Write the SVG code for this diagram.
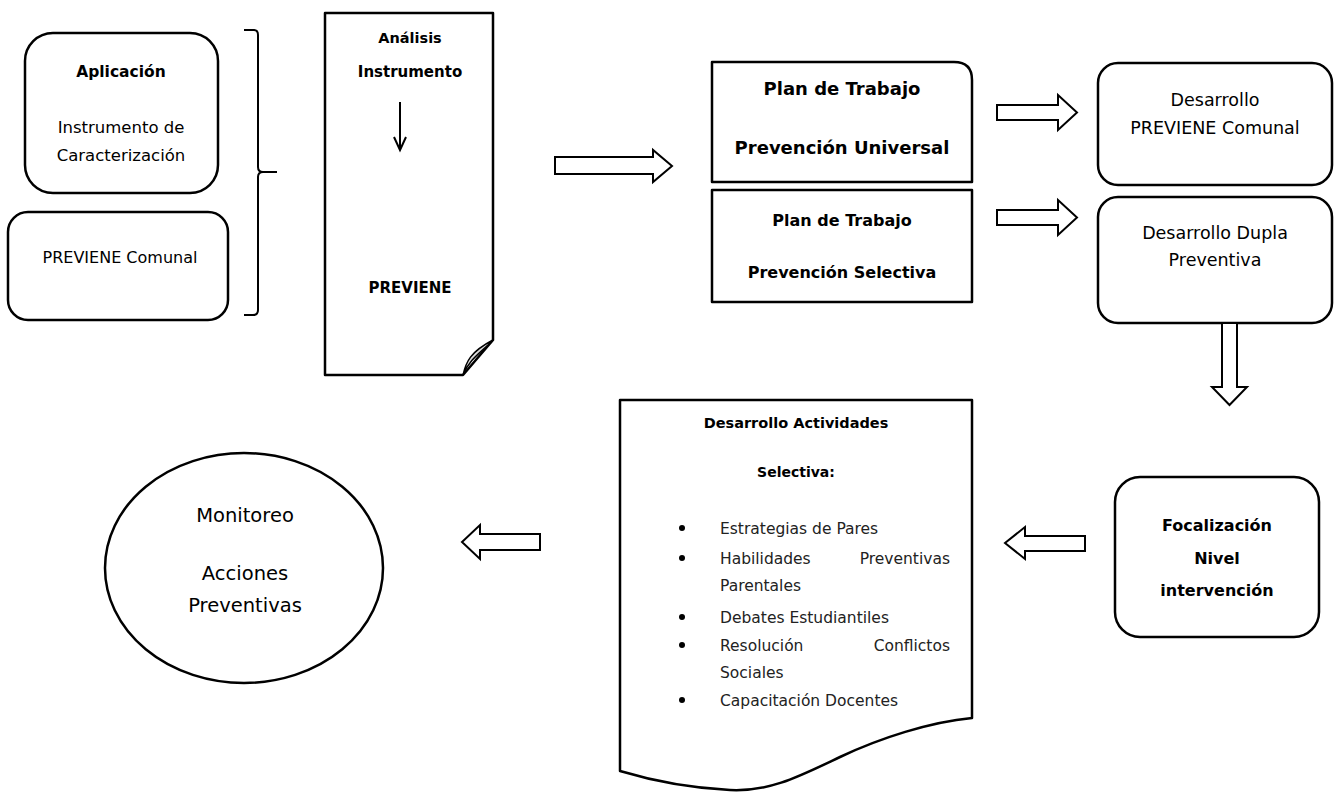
<svg xmlns="http://www.w3.org/2000/svg" width="1338" height="792" viewBox="0 0 1338 792">
<style>
.shape{fill:#fff;stroke:#000;stroke-width:2.5;stroke-linejoin:round}
.arrow{fill:#fff;stroke:#000;stroke-width:2;stroke-linejoin:miter}
.line{fill:none;stroke:#000;stroke-width:2}
text{font-family:"DejaVu Sans","Liberation Sans",sans-serif;fill:#000;text-anchor:middle}
.b{font-weight:bold}
.li{text-anchor:start;fill:#222}
.le{text-anchor:end;fill:#222}
</style>
<rect width="1338" height="792" fill="#fff"/>

<g id="aplicacion">
<rect class="shape" x="25" y="33" width="193" height="160" rx="28" ry="28" stroke-width="3"/>
<text class="b" x="121" y="77" font-size="15.5">Aplicación</text>
<text x="121" y="133" font-size="16.5">Instrumento de</text>
<text x="121" y="161" font-size="16.5">Caracterización</text>
</g>

<g id="previene-comunal">
<rect class="shape" x="8" y="212" width="220" height="108" rx="20" ry="20" stroke-width="3"/>
<text x="120" y="263" font-size="16">PREVIENE Comunal</text>
</g>

<g id="analisis">
<path class="shape" d="M325,13 H493 V340 L463,375 H325 Z"/>
<path d="M463,375 C466,362 470,352 493,340 C482,352 470,358 463,375 Z" fill="#ddd" stroke="#000" stroke-width="1.5"/>
<text class="b" x="410" y="43" font-size="14.5">Análisis</text>
<text class="b" x="410" y="77" font-size="15">Instrumento</text>
<text class="b" x="410" y="293" font-size="15">PREVIENE</text>
</g>

<g id="plan-universal">
<path class="shape" d="M712,62 H954 Q972,62 972,80 V182 H712 Z" stroke-width="3"/>
<text class="b" x="842" y="94.5" font-size="18">Plan de Trabajo</text>
<text class="b" x="842" y="153.5" font-size="18">Prevención Universal</text>
</g>

<g id="plan-selectiva">
<rect class="shape" x="712" y="190" width="260" height="112" stroke-width="3"/>
<text class="b" x="842" y="226" font-size="16">Plan de Trabajo</text>
<text class="b" x="842" y="278" font-size="16">Prevención Selectiva</text>
</g>

<g id="desarrollo-comunal">
<rect class="shape" x="1098" y="63" width="234" height="122" rx="20" ry="20"/>
<text x="1215" y="106" font-size="17.5">Desarrollo</text>
<text x="1215" y="134" font-size="17.5">PREVIENE Comunal</text>
</g>

<g id="desarrollo-dupla">
<rect class="shape" x="1098" y="197" width="234" height="126" rx="20" ry="20"/>
<text x="1215" y="239" font-size="17.5">Desarrollo Dupla</text>
<text x="1215" y="266" font-size="17.5">Preventiva</text>
</g>

<g id="focalizacion">
<rect class="shape" x="1115" y="477" width="204" height="160" rx="25" ry="25" stroke-width="3"/>
<text class="b" x="1217" y="531" font-size="16">Focalización</text>
<text class="b" x="1217" y="564" font-size="16">Nivel</text>
<text class="b" x="1217" y="596" font-size="16">intervención</text>
</g>

<g id="actividades">
<path class="shape" d="M620,400 H972 V718 C930,722 880,738 840,757 C800,776 770,792 730,790 C690,788 650,780 620,771 Z" stroke-width="3"/>
<text class="b" x="796" y="428" font-size="14.5">Desarrollo Actividades</text>
<text class="b" x="796" y="477" font-size="14">Selectiva:</text>
<g fill="#000">
<circle cx="682" cy="528" r="3"/>
<circle cx="682" cy="558" r="3"/>
<circle cx="682" cy="617" r="3"/>
<circle cx="682" cy="645" r="3"/>
<circle cx="682" cy="700" r="3"/>
</g>
<g font-size="15.5">
<text class="li" x="720" y="533.5">Estrategias de Pares</text>
<text class="li" x="720" y="563.5">Habilidades</text>
<text class="le" x="950" y="563.5">Preventivas</text>
<text class="li" x="720" y="590.5">Parentales</text>
<text class="li" x="720" y="622.5">Debates Estudiantiles</text>
<text class="li" x="720" y="650.5">Resolución</text>
<text class="le" x="950" y="650.5">Conflictos</text>
<text class="li" x="720" y="677.5">Sociales</text>
<text class="li" x="720" y="705.5">Capacitación Docentes</text>
</g>
</g>

<g id="monitoreo">
<ellipse class="shape" cx="244" cy="568" rx="139" ry="115" stroke-width="3"/>
<text x="245" y="522" font-size="19.5">Monitoreo</text>
<text x="245" y="580" font-size="19.5">Acciones</text>
<text x="245" y="612" font-size="19.5">Preventivas</text>
</g>

<g id="connectors">
<path class="line" d="M244,30 H254 Q258,30 258,35 V167 Q258,172 263,172 H277 M263,172 Q258,172 258,177 V310 Q258,315 253,315 H244"/>
<path class="line" d="M400,102 V150 M394,137 L400,150 L406,137" stroke-width="1.5"/>
<path class="arrow" d="M555,157 H653 V150 L672,166 L653,182 V174 H555 Z"/>
<path class="arrow" d="M997,105 H1058 V95 L1077,112.5 L1058,130 V120 H997 Z"/>
<path class="arrow" d="M997,210 H1058 V200 L1077,217.5 L1058,235 V225 H997 Z"/>
<path class="arrow" d="M1222,323 H1237 V387 H1247 L1229.5,405 L1212,387 H1222 Z"/>
<path class="arrow" d="M1085,536 H1025 V527 L1005,543 L1025,559 V551 H1085 Z"/>
<path class="arrow" d="M540,534 H480 V525 L462,542 L480,559 V550 H540 Z"/>
</g>
</svg>
